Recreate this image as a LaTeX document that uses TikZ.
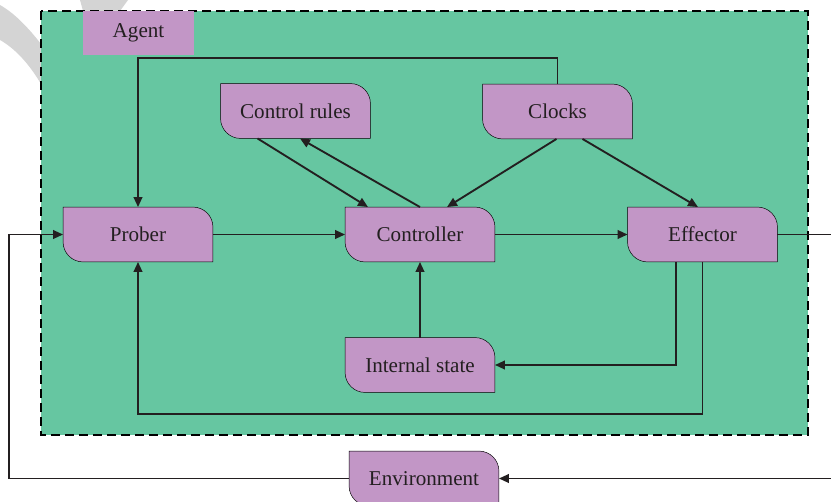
\documentclass[tikz,border=0pt]{standalone}
\usepackage{fontspec}
\setmainfont{Liberation Serif}
\usetikzlibrary{arrows.meta,backgrounds,calc}

\definecolor{agentgreen}{RGB}{102,198,161}
\definecolor{unitpurple}{RGB}{194,150,198}
\definecolor{inkdark}{RGB}{35,31,32}
\definecolor{markgrey}{RGB}{212,212,212}

% purple box with the top right and bottom left corners rounded
\newcommand{\unitshape}[1]{%
    \filldraw[fill=unitpurple] (#1.north west) -- ([xshift=-0.6cm]#1.north east)
        arc[start angle=90, end angle=0, radius=0.6cm] -- (#1.south east)
        -- ([xshift=0.6cm]#1.south west)
        arc[start angle=270, end angle=180, radius=0.6cm] -- cycle;}

\begin{document}
\begin{tikzpicture}[x=0.03cm, y=-0.03cm, color=inkdark, line width=1.6pt,
    unit/.style = {minimum width=4.44cm, minimum height=1.59cm, inner sep=0pt, font=\fontsize{18}{20}\selectfont},
    tag/.style = {fill=unitpurple, minimum width=3.33cm, minimum height=1.32cm, inner sep=0pt, font=\fontsize{18}{20}\selectfont},
    arr/.style = {-{Triangle[length=3mm, width=2.6mm]}}]
    \useasboundingbox (0,0) rectangle (831,502);

    \node[unit] (prober) at (138, 234.5) {Prober};
    \node[unit] (ctrl) at (420, 234.5) {Controller};
    \node[unit] (eff) at (702.5, 234.5) {Effector};

    \node[unit] (rules) at (295.5, 111) {Control rules};
    \node[unit] (clocks) at (557.5, 111.5) {Clocks};

    \node[unit] (state) at (420, 365) {Internal state};
    \node[unit] (env) at (424, 478.5) {Environment};

    \begin{scope}[on background layer]
        \fill[markgrey] (0,5) .. controls (16,14) and (30,30) .. (41,44) -- (41,84)
            .. controls (28,62) and (14,48) .. (0,40) -- cycle;
        \fill[markgrey] (80,0) -- (128,0) -- (120,11) -- (83,11) -- cycle;
        \filldraw[fill=agentgreen, line width=1.3pt, dash pattern=on 0.27cm off 0.15cm]
            (41,11) rectangle (808,435);
        \foreach \n in {prober, ctrl, eff, rules, clocks, state, env}
            \unitshape{\n};
    \end{scope}

    \node[tag] (agent) at (138.5, 33) {Agent};

    \draw[arr] (clocks.north) -- ++(0,-26) -| (prober.north);
    \draw[arr] ($(rules.south)+(-38,0)$) -- ($(ctrl.north)+(-52,0)$);
    \draw[arr] (ctrl.north) -- ($(rules.south)+(4.5,0)$);
    \draw[arr] ($(clocks.south)+(-1,0)$) -- ($(ctrl.north)+(27,0)$);
    \draw[arr] ($(clocks.south)+(25,0)$) -- ($(eff.north)+(-4.5,0)$);

    \draw[arr] (prober) -- (ctrl);
    \draw[arr] (ctrl) -- (eff);
    \draw[arr] (state) -- (ctrl);

    \draw[arr] ($(eff.south)+(-26.5,0)$) |- (state.east);
    \draw[arr] (eff.south) -- ++(0,152) -| (prober.south);

    \draw[arr] (eff.east) -- ++(60,0) |- (env.east);
    \draw[arr] (env.west) -- ++(-340,0) |- (prober.west);
\end{tikzpicture}
\end{document}
